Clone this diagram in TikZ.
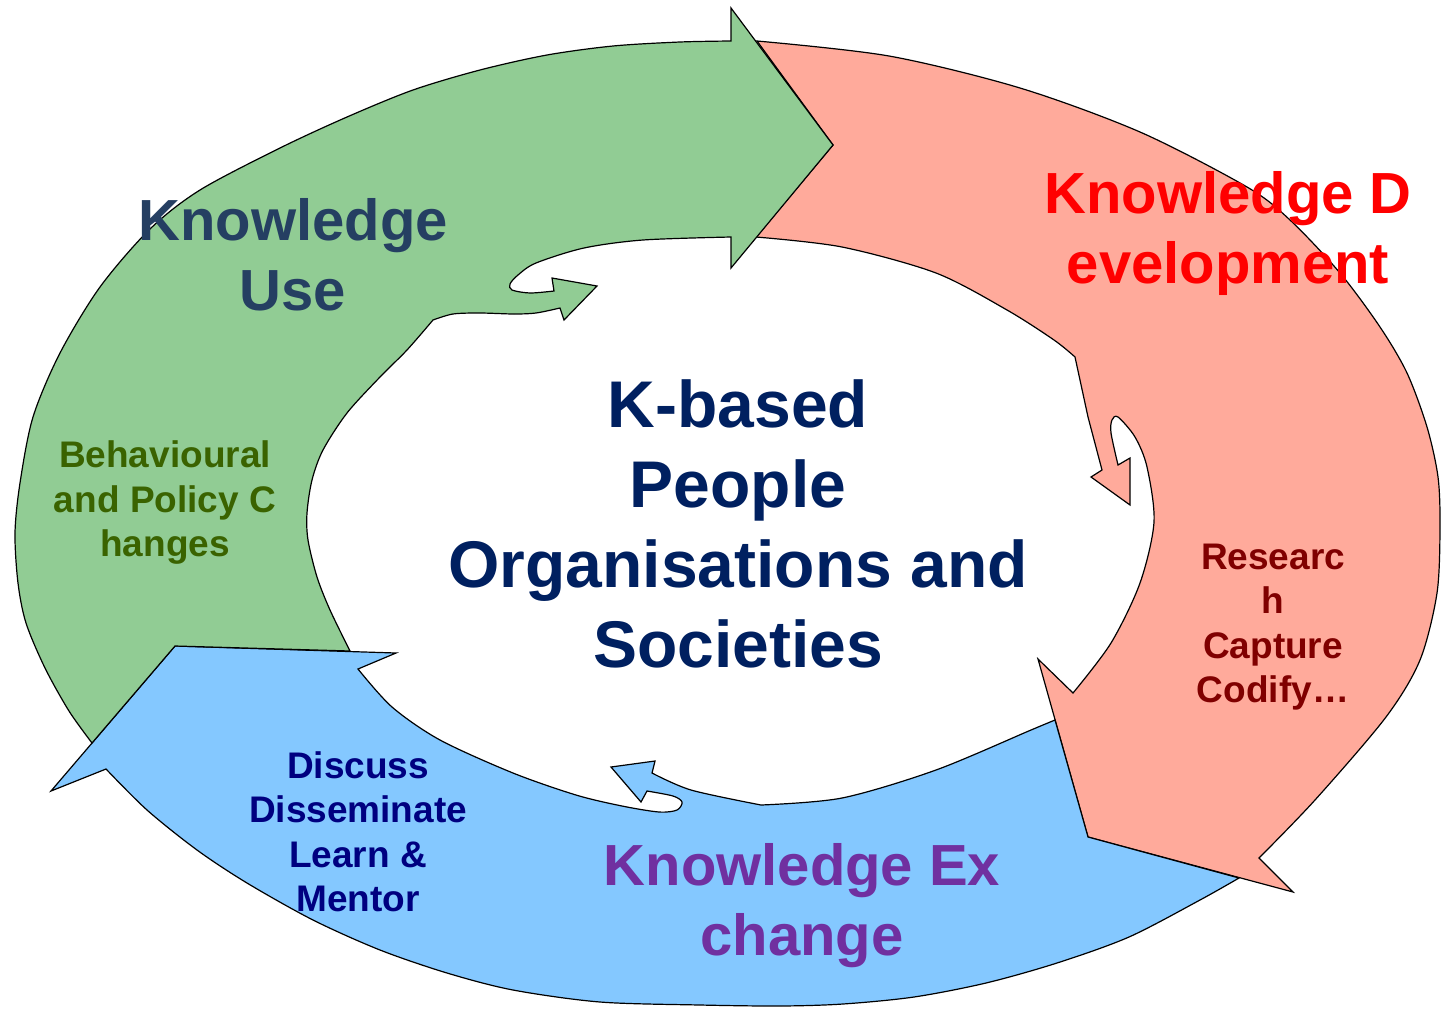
\documentclass[tikz,border=0pt]{standalone}
\usepackage{fontspec}
\setmainfont{Liberation Sans}
\definecolor{usefill}{HTML}{91CC94}
\definecolor{devfill}{HTML}{FFAA9B}
\definecolor{exfill}{HTML}{84C8FF}
\definecolor{usetext}{HTML}{253F62}
\definecolor{behtext}{HTML}{3A6300}
\definecolor{devtext}{HTML}{FF0000}
\definecolor{restext}{HTML}{800000}
\definecolor{distext}{HTML}{000080}
\definecolor{extext}{HTML}{7030A0}
\definecolor{centertext}{HTML}{002060}
\begin{document}
\begin{tikzpicture}[x=1bp,y=-1bp,
  blockarrow/.style={draw=black,line width=1.2bp,line join=miter},
  bigfont/.style={font={\fontsize{58bp}{70bp}\selectfont\bfseries}},
  smallfont/.style={font={\fontsize{37bp}{44.5bp}\selectfont\bfseries}},
  centerfont/.style={font={\fontsize{66bp}{80bp}\selectfont\bfseries}},
  lbl/.style={align=center,inner sep=0pt}]
\useasboundingbox (0,0) rectangle (1441,1008);
% pink arrow: Knowledge Development
\path[blockarrow,fill=devfill] (757,41) -- (833,145) -- (756,237)
  -- plot[smooth] coordinates {(756,237) (842,247) (936,273) (1007,310) (1054,340) (1075,357)}
  -- (1088,417) -- (1102,470) -- (1091,477) -- (1130,505) -- (1130,458) -- (1118,465)
  -- plot[smooth] coordinates {(1118,465) (1111,433) (1112,420) (1118,417) (1135,437) (1147,467) (1154,522) (1140,583) (1111,643) (1073,693)}
  -- (1038,659) -- (1088,837) -- (1293,892) -- (1259,858)
  -- plot[smooth] coordinates {(1259,858) (1315,800) (1386,717) (1420,660) (1437,593) (1440,527) (1438,477) (1427,427) (1407,373) (1380,327) (1340,273) (1290,220) (1247,187) (1140,132) (1020,88) (889,56) (757,41)}
  -- cycle;
% blue arrow: Knowledge Exchange
\path[blockarrow,fill=exfill] (1055,720) -- (1088,837) -- (1239,878)
  -- plot[smooth] coordinates {(1239,878) (1200,900) (1129,937) (1057,963) (986,983) (914,997) (843,1004) (780,1006) (700,1005) (600,1002) (513,990) (447,973) (380,950) (313,920) (247,883) (197,850) (147,810) (106,769)}
  -- (51,791) -- (175,646) -- (396,653) -- (358,669)
  -- plot[smooth] coordinates {(358,669) (392,707) (440,740) (513,773) (576,795) (622,806) (659,812) (677,810) (682,802) (673,796) (647,791)}
  -- (641,802) -- (611,767) -- (655,761) -- (652,773)
  -- plot[smooth] coordinates {(652,773) (691,790) (761,805)}
  -- plot[smooth] coordinates {(761,805) (842,798) (936,770) (1031,730) (1055,720)}
  -- cycle;
% green arrow: Knowledge Use
\path[blockarrow,fill=usefill] (92,743) -- (175,646) -- (350,651)
  -- plot[smooth] coordinates {(350,651) (330,610) (317,577) (308,540) (307,513) (312,480) (323,450) (347,413) (380,377) (407,350) (433,320)}
  -- plot[smooth] coordinates {(433,320) (453,314) (480,313) (514,314) (536,313) (560,308)}
  -- (564,320) -- (597,286) -- (552,278) -- (554,291)
  -- plot[smooth] coordinates {(554,291) (530,293) (512,290) (510,284) (518,275) (536,263) (584,248) (643,240) (731,237)}
  -- (731,268) -- (833,145) -- (731,8) -- (731,41)
  -- plot[smooth] coordinates {(731,41) (680,42) (613,46) (547,55) (480,70) (413,90) (347,117) (280,148) (200,190) (150,229) (100,287) (60,353) (33,417) (20,483) (15,533) (18,583) (26,623) (45,668) (69,711) (92,743)}
  -- cycle;
% labels
\node[lbl,bigfont,text=usetext] (use) at (293,255) {Knowledge\\Use};
\node[lbl,smallfont,text=behtext] (beh) at (165,503) {Behavioural\\and Policy C\\hanges};
\node[lbl,bigfont,text=devtext] (dev) at (1228,233) {Knowledge D\\evelopment};
\node[lbl,smallfont,text=restext] (res) at (1273,627) {Researc\\h\\Capture\\Codify…};
\node[lbl,smallfont,text=distext] (dis) at (358,832) {Discuss\\Disseminate\\Learn \&\\Mentor};
\node[lbl,bigfont,text=extext] (ex) at (802,906) {Knowledge Ex\\change};
\node[lbl,centerfont,text=centertext] (center) at (738,524) {K-based\\People\\Organisations and\\Societies};
\end{tikzpicture}
\end{document}
